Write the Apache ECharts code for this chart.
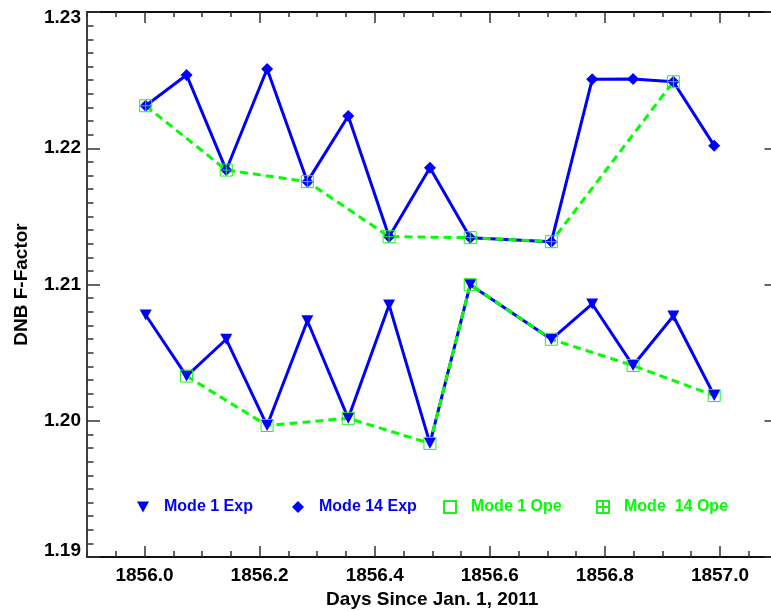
<!DOCTYPE html>
<html>
<head>
<meta charset="utf-8">
<script src="https://cdn.jsdelivr.net/npm/echarts@6/dist/echarts.min.js"></script>
<style>
  html, body { margin: 0; padding: 0; background: #fff; }
  #chart { width: 771px; height: 611px; }
</style>
</head>
<body>
<div id="chart"></div>
<script>
// sample times (days since Jan. 1, 2011)
const days = [1856.002, 1856.073, 1856.142, 1856.213, 1856.283, 1856.354, 1856.425,
  1856.496, 1856.566, 1856.707, 1856.778, 1856.849, 1856.919, 1856.990];

// F-factor values, null where the series has no sample
const mode1Exp = [1.20776, 1.20328, 1.20598, 1.19965, 1.20734, 1.20018, 1.20850,
  1.19834, 1.20999, 1.20598, 1.20857, 1.20405, 1.20769, 1.20185];
const mode14Exp = [1.22312, 1.22538, 1.21840, 1.22582, 1.21755, 1.22237, 1.21351,
  1.21857, 1.21344, 1.21314, 1.22506, 1.22508, 1.22488, 1.22019];
const mode1Ope = [null, 1.20328, null, 1.19965, null, 1.20018, null,
  1.19834, 1.20999, 1.20598, null, 1.20405, null, 1.20185];
const mode14Ope = [1.22312, null, 1.21840, null, 1.21755, null, 1.21351,
  null, 1.21344, 1.21314, null, null, 1.22488, null];

const xTicks = [1856.0, 1856.2, 1856.4, 1856.6, 1856.8, 1857.0];
const seriesNames = ['Mode 1 Exp', 'Mode 14 Exp', 'Mode 1 Ope', 'Mode  14 Ope'];

const BLUE = '#0000ff';
const GREEN = '#00ff00';
const FONT = "'Liberation Sans', Arial, sans-serif";

const triDown = 'path://M0,0 L10,0 L5,9 Z';
const diamond = 'path://M5,0 L10,5 L5,10 L0,5 Z';
const square = 'path://M0,0 L10,0 L10,10 L0,10 Z';
const squarePlus = 'path://M0,0 L10,0 L10,10 L0,10 Z M5,0 L5,10 M0,5 L10,5';

function pairs(vals) {
  return days.map((d, i) => [d, vals[i]]).filter(p => p[1] !== null);
}

const chart = echarts.init(document.getElementById('chart'), null, { renderer: 'canvas' });

const axisLine = { show: true, onZero: false, lineStyle: { color: '#000', width: 1.5 } };
const tickStyle = { color: '#333', width: 1.5 };
const labelFont = { color: '#000', fontFamily: FONT, fontSize: 19, fontWeight: 'bold' };

// x axes: bottom major (labels), bottom minor, top major, top minor
function xAxisDef(pos, major, withLabel, len, extra) {
  return Object.assign({
    type: 'value',
    position: pos,
    min: 1855.9,
    max: 1857.1,
    axisLine: axisLine,
    splitLine: { show: false },
    axisTick: major
      ? { show: true, inside: true, length: len, lineStyle: tickStyle, customValues: xTicks }
      : { show: true, inside: true, length: len, lineStyle: tickStyle },
    axisLabel: withLabel
      ? Object.assign({ show: true, customValues: xTicks, margin: 9, formatter: v => v.toFixed(1) }, labelFont)
      : { show: false }
  }, extra || {});
}

function yAxisDef(pos, withLabel) {
  return {
    type: 'value',
    position: pos,
    min: 1.19,
    max: 1.23,
    interval: 0.01,
    axisLine: axisLine,
    splitLine: { show: false },
    axisTick: { show: true, inside: true, length: 13, lineStyle: tickStyle },
    minorTick: { show: true, splitNumber: 10, length: 6.5, lineStyle: tickStyle },
    minorSplitLine: { show: false },
    axisLabel: withLabel
      ? Object.assign({
          show: true, margin: 6, lineHeight: 12,
          formatter: v => v.toFixed(2),
          verticalAlignMinLabel: 'bottom', verticalAlignMaxLabel: 'top'
        }, labelFont)
      : { show: false },
    name: withLabel ? 'DNB F-Factor' : '',
    nameLocation: 'middle',
    nameGap: 56,
    nameTextStyle: labelFont
  };
}

// one legend per entry so the entries sit at even spacing
const legendLeft = [137, 292, 443, 596];
const legendIcons = [triDown, diamond, square, squarePlus];
const legendColors = [BLUE, BLUE, GREEN, GREEN];
const legends = seriesNames.map((n, i) => ({
  left: legendLeft[i],
  top: 499,
  padding: 0,
  itemWidth: 12,
  itemHeight: 12,
  selectedMode: false,
  textStyle: { fontFamily: FONT, fontSize: 16, fontWeight: 'bold', color: legendColors[i], padding: [0, 0, 0, 10] },
  data: [{ name: n, icon: legendIcons[i] }]
}));

const option = {
  animation: false,
  backgroundColor: '#fff',
  textStyle: { fontFamily: FONT },
  grid: { left: 87, top: 12, width: 690.5, height: 545, containLabel: false, outerBoundsMode: 'none' },
  legend: legends,
  xAxis: [
    xAxisDef('bottom', true, true, 11, {
      name: 'Days Since Jan. 1, 2011',
      nameLocation: 'middle',
      nameGap: 31,
      nameTextStyle: labelFont
    }),
    xAxisDef('bottom', false, false, 6, { interval: 0.05 }),
    xAxisDef('top', true, false, 11),
    xAxisDef('top', false, false, 5, { interval: 0.05 })
  ],
  yAxis: [yAxisDef('left', true), yAxisDef('right', false)],
  series: [
    {
      name: seriesNames[0], type: 'line', data: pairs(mode1Exp),
      symbol: triDown, symbolSize: [12, 11], symbolKeepAspect: false,
      lineStyle: { color: BLUE, width: 3 },
      itemStyle: { color: BLUE }
    },
    {
      name: seriesNames[1], type: 'line', data: pairs(mode14Exp),
      symbol: diamond, symbolSize: 12,
      lineStyle: { color: BLUE, width: 3 },
      itemStyle: { color: BLUE }
    },
    {
      name: seriesNames[2], type: 'line', data: pairs(mode1Ope),
      symbol: square, symbolSize: 12,
      lineStyle: { color: GREEN, width: 3, type: [8, 5] },
      itemStyle: { color: 'rgba(0,0,0,0)', borderColor: '#22ee22', borderWidth: 1 }
    },
    {
      name: seriesNames[3], type: 'line', data: pairs(mode14Ope),
      symbol: squarePlus, symbolSize: 12,
      lineStyle: { color: GREEN, width: 3, type: [8, 5] },
      itemStyle: { color: 'rgba(0,0,0,0)', borderColor: '#22ee22', borderWidth: 1 }
    }
  ]
};

chart.setOption(option);
</script>
</body>
</html>
